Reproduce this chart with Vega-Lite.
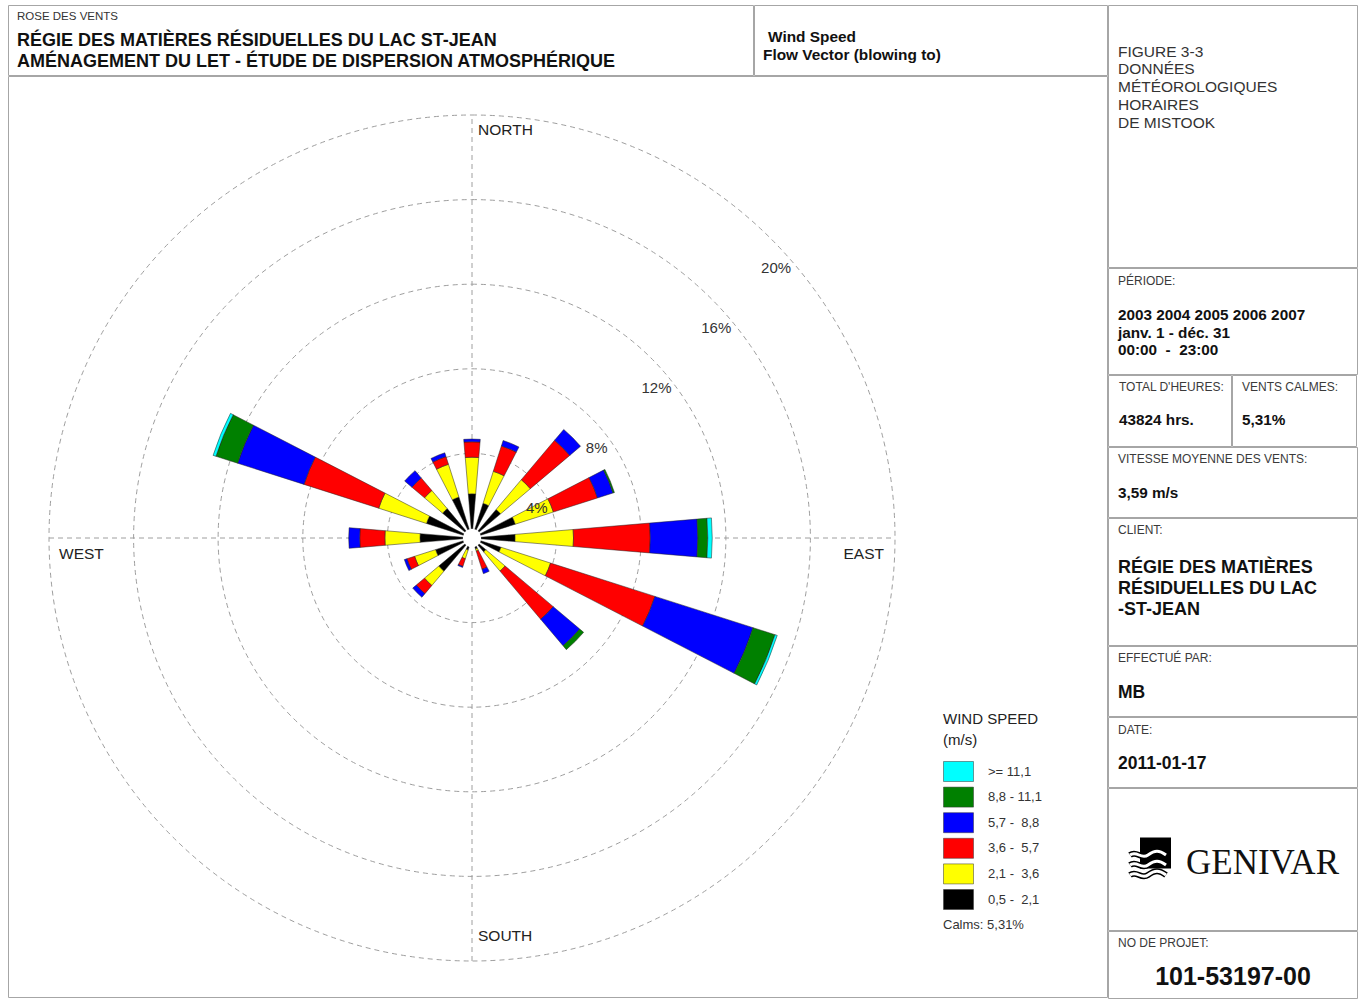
{
  "$schema": "https://vega.github.io/schema/vega-lite/v6.json",
  "background": "white",
  "padding": {"left": 7, "top": 4, "right": 0, "bottom": 0},
  "config": {
    "view": {"stroke": "#a6a6a6", "strokeWidth": 1},
    "style": {"view": {"stroke": "#a6a6a6", "strokeWidth": 1}},
    "font": "Liberation Sans"
  },
  "datasets": {
    "rose": [
      {"d": 0, "c": 1, "p": 2.09}, {"d": 0, "c": 2, "p": 1.73}, {"d": 0, "c": 3, "p": 0.73}, {"d": 0, "c": 4, "p": 0.13},
      {"d": 22.5, "c": 1, "p": 1.72}, {"d": 22.5, "c": 2, "p": 1.59}, {"d": 22.5, "c": 3, "p": 1.26}, {"d": 22.5, "c": 4, "p": 0.27},
      {"d": 45, "c": 1, "p": 1.77}, {"d": 45, "c": 2, "p": 1.84}, {"d": 45, "c": 3, "p": 2.44}, {"d": 45, "c": 4, "p": 0.67},
      {"d": 67.5, "c": 1, "p": 2.15}, {"d": 67.5, "c": 2, "p": 1.89}, {"d": 67.5, "c": 3, "p": 2.19}, {"d": 67.5, "c": 4, "p": 0.77}, {"d": 67.5, "c": 5, "p": 0.07},
      {"d": 90, "c": 1, "p": 2.04}, {"d": 90, "c": 2, "p": 2.76}, {"d": 90, "c": 3, "p": 3.63}, {"d": 90, "c": 4, "p": 2.25}, {"d": 90, "c": 5, "p": 0.47}, {"d": 90, "c": 6, "p": 0.21},
      {"d": 112.5, "c": 1, "p": 1.44}, {"d": 112.5, "c": 2, "p": 2.46}, {"d": 112.5, "c": 3, "p": 5.18}, {"d": 112.5, "c": 4, "p": 4.87}, {"d": 112.5, "c": 5, "p": 1.09}, {"d": 112.5, "c": 6, "p": 0.11},
      {"d": 135, "c": 1, "p": 0.86}, {"d": 135, "c": 2, "p": 1.19}, {"d": 135, "c": 3, "p": 2.98}, {"d": 135, "c": 4, "p": 1.64}, {"d": 135, "c": 5, "p": 0.24},
      {"d": 157.5, "c": 1, "p": 0.55}, {"d": 157.5, "c": 2, "p": 0.1}, {"d": 157.5, "c": 3, "p": 0.9}, {"d": 157.5, "c": 4, "p": 0.22},
      {"d": 180, "c": 1, "p": 0.3},
      {"d": 202.5, "c": 1, "p": 0.6}, {"d": 202.5, "c": 2, "p": 0.43}, {"d": 202.5, "c": 3, "p": 0.38}, {"d": 202.5, "c": 4, "p": 0.05},
      {"d": 225, "c": 1, "p": 2.06}, {"d": 225, "c": 2, "p": 0.88}, {"d": 225, "c": 3, "p": 0.51}, {"d": 225, "c": 4, "p": 0.22},
      {"d": 247.5, "c": 1, "p": 1.81}, {"d": 247.5, "c": 2, "p": 1.04}, {"d": 247.5, "c": 3, "p": 0.38}, {"d": 247.5, "c": 4, "p": 0.13},
      {"d": 270, "c": 1, "p": 2.46}, {"d": 270, "c": 2, "p": 1.66}, {"d": 270, "c": 3, "p": 1.19}, {"d": 270, "c": 4, "p": 0.52},
      {"d": 292.5, "c": 1, "p": 2.26}, {"d": 292.5, "c": 2, "p": 2.37}, {"d": 292.5, "c": 3, "p": 3.71}, {"d": 292.5, "c": 4, "p": 3.29}, {"d": 292.5, "c": 5, "p": 1.08}, {"d": 292.5, "c": 6, "p": 0.14},
      {"d": 315, "c": 1, "p": 1.82}, {"d": 315, "c": 2, "p": 1.12}, {"d": 315, "c": 3, "p": 0.78}, {"d": 315, "c": 4, "p": 0.45},
      {"d": 337.5, "c": 1, "p": 2.03}, {"d": 337.5, "c": 2, "p": 1.63}, {"d": 337.5, "c": 3, "p": 0.38}, {"d": 337.5, "c": 4, "p": 0.19}
    ],
    "classes": [
      {"c": 1, "s": "0,5 -\u00a0 2,1"},
      {"c": 2, "s": "2,1 -\u00a0 3,6"},
      {"c": 3, "s": "3,6 -\u00a0 5,7"},
      {"c": 4, "s": "5,7 -\u00a0 8,8"},
      {"c": 5, "s": "8,8 - 11,1"},
      {"c": 6, "s": ">= 11,1"}
    ]
  },
  "spacing": -4,
  "hconcat": [
    {
      "spacing": -4,
      "vconcat": [
        {
          "spacing": -4,
          "hconcat": [
            {
              "width": 745, "height": 70,
              "data": {"values": [{"a": "ROSE DES VENTS", "b": "RÉGIE DES MATIÈRES RÉSIDUELLES DU LAC ST-JEAN\nAMÉNAGEMENT DU LET - ÉTUDE DE DISPERSION ATMOSPHÉRIQUE"}]},
              "layer": [
                {"mark": {"type": "text", "x": 9, "y": 14.5, "align": "left", "baseline": "alphabetic", "fontSize": 11.5, "color": "#333"}, "encoding": {"text": {"field": "a"}}},
                {"mark": {"type": "text", "x": 9, "y": 41, "align": "left", "baseline": "alphabetic", "fontSize": 18, "fontWeight": "bold", "lineBreak": "\n", "lineHeight": 21, "color": "#111"}, "encoding": {"text": {"field": "b"}}}
              ]
            },
            {
              "width": 353, "height": 70,
              "data": {"values": [{"a": "Wind Speed", "b": "Flow Vector (blowing to)"}]},
              "layer": [
                {"mark": {"type": "text", "x": 14, "y": 37, "align": "left", "baseline": "alphabetic", "fontSize": 15.4, "fontWeight": "bold", "color": "#111"}, "encoding": {"text": {"field": "a"}}},
                {"mark": {"type": "text", "x": 9, "y": 55, "align": "left", "baseline": "alphabetic", "fontSize": 15.4, "fontWeight": "bold", "color": "#111"}, "encoding": {"text": {"field": "b"}}}
              ]
            }
          ]
        },
        {
          "width": 1099, "height": 921,
          "layer": [
            {
              "data": {"values": [{"r": 4}, {"r": 8}, {"r": 12}, {"r": 16}, {"r": 20}]},
              "mark": {"type": "arc", "filled": false, "stroke": "#9e9e9e", "strokeWidth": 1, "strokeDash": [5, 4], "theta": 0, "theta2": 6.2832},
              "encoding": {
                "x": {"datum": 0, "type": "quantitative", "scale": {"domain": [-21.939, 30.024], "nice": false, "zero": false}, "axis": null},
                "y": {"datum": 0, "type": "quantitative", "scale": {"domain": [-21.702, 21.844], "nice": false, "zero": false}, "axis": null},
                "radius": {"field": "r", "type": "quantitative", "stack": null, "scale": {"type": "linear", "domain": [0, 20], "range": [0, 423], "nice": false, "zero": true}}
              }
            },
            {
              "data": {"values": [{"x1": -20, "x2": 20, "y1": 0, "y2": 0}, {"x1": 0, "x2": 0, "y1": -20, "y2": 20}]},
              "mark": {"type": "rule", "color": "#9e9e9e", "strokeWidth": 1, "strokeDash": [5, 4]},
              "encoding": {
                "x": {"field": "x1", "type": "quantitative", "scale": {"domain": [-21.939, 30.024], "nice": false, "zero": false}, "axis": null},
                "x2": {"field": "x2"},
                "y": {"field": "y1", "type": "quantitative", "scale": {"domain": [-21.702, 21.844], "nice": false, "zero": false}, "axis": null},
                "y2": {"field": "y2"}
              }
            },
            {
              "data": {"name": "rose"},
              "transform": [
                {"lookup": "c", "from": {"data": {"name": "classes"}, "key": "c", "fields": ["s"]}},
                {"stack": "p", "groupby": ["d"], "sort": [{"field": "c", "order": "ascending"}], "as": ["r0", "r1"]}
              ],
              "mark": {"type": "arc", "thetaOffset": -0.0838, "theta2Offset": 0.0838, "stroke": "#222", "strokeWidth": 0.5},
              "encoding": {
                "x": {"datum": 0, "type": "quantitative", "scale": {"domain": [-21.939, 30.024], "nice": false, "zero": false}, "axis": null},
                "y": {"datum": 0, "type": "quantitative", "scale": {"domain": [-21.702, 21.844], "nice": false, "zero": false}, "axis": null},
                "theta": {"field": "d", "type": "quantitative", "stack": null, "scale": {"domain": [0, 360], "range": [0, 6.283185307], "nice": false, "zero": false}},
                "theta2": {"field": "d"},
                "radius": {"field": "r1", "type": "quantitative", "stack": null, "scale": {"type": "linear", "domain": [0, 20], "range": [0, 423], "nice": false, "zero": true}},
                "radius2": {"field": "r0"},
                "color": {
                  "field": "s", "type": "nominal",
                  "scale": {
                    "domain": [">= 11,1", "8,8 - 11,1", "5,7 -\u00a0 8,8", "3,6 -\u00a0 5,7", "2,1 -\u00a0 3,6", "0,5 -\u00a0 2,1"],
                    "range": ["#00ffff", "#008000", "#0000ff", "#ff0000", "#ffff00", "#000000"]
                  },
                  "legend": {
                    "orient": "none", "legendX": 935, "legendY": 707,
                    "title": ["WIND SPEED", "(m/s)"],
                    "titleFont": "Liberation Sans", "titleFontSize": 15, "titleFontWeight": "normal", "titleColor": "#222", "titleLineHeight": 21, "titlePadding": 13,
                    "symbolType": "M-1,-1H2V1H-1Z", "symbolSize": 400, "symbolStrokeColor": "#333", "symbolStrokeWidth": 0.5, "symbolOpacity": 1,
                    "labelFont": "Liberation Sans", "labelFontSize": 13, "labelColor": "#333", "labelOffset": 24,
                    "rowPadding": 2.6, "padding": 0
                  }
                }
              }
            },
            {
              "data": {"values": [{"k": "centre"}]},
              "mark": {"type": "arc", "radius": 9.2, "theta": 0, "theta2": 6.2832, "color": "white"},
              "encoding": {
                "x": {"datum": 0, "type": "quantitative", "scale": {"domain": [-21.939, 30.024], "nice": false, "zero": false}, "axis": null},
                "y": {"datum": 0, "type": "quantitative", "scale": {"domain": [-21.702, 21.844], "nice": false, "zero": false}, "axis": null}
              }
            },
            {
              "data": {"values": [{"r": 4, "t": "4%"}, {"r": 8, "t": "8%"}, {"r": 12, "t": "12%"}, {"r": 16, "t": "16%"}, {"r": 20, "t": "20%"}]},
              "mark": {"type": "text", "theta": 0.7854, "dx": 5, "dy": 29.5, "align": "center", "baseline": "middle", "fontSize": 15, "color": "#333"},
              "encoding": {
                "x": {"datum": 0, "type": "quantitative", "scale": {"domain": [-21.939, 30.024], "nice": false, "zero": false}, "axis": null},
                "y": {"datum": 0, "type": "quantitative", "scale": {"domain": [-21.702, 21.844], "nice": false, "zero": false}, "axis": null},
                "radius": {"field": "r", "type": "quantitative", "stack": null, "scale": {"type": "linear", "domain": [0, 20], "range": [0, 423], "nice": false, "zero": true}},
                "text": {"field": "t"}
              }
            },
            {
              "data": {"values": [{"t": "NORTH"}]},
              "mark": {"type": "text", "theta": 0, "dx": 6, "dy": 20, "align": "left", "baseline": "alphabetic", "fontSize": 15.5, "color": "#222"},
              "encoding": {
                "x": {"datum": 0, "type": "quantitative", "scale": {"domain": [-21.939, 30.024], "nice": false, "zero": false}, "axis": null},
                "y": {"datum": 0, "type": "quantitative", "scale": {"domain": [-21.702, 21.844], "nice": false, "zero": false}, "axis": null},
                "radius": {"datum": 20, "type": "quantitative", "stack": null},
                "text": {"field": "t"}
              }
            },
            {
              "data": {"values": [{"t": "SOUTH"}]},
              "mark": {"type": "text", "theta": 3.14159, "dx": 6, "dy": -20, "align": "left", "baseline": "alphabetic", "fontSize": 15.5, "color": "#222"},
              "encoding": {
                "x": {"datum": 0, "type": "quantitative", "scale": {"domain": [-21.939, 30.024], "nice": false, "zero": false}, "axis": null},
                "y": {"datum": 0, "type": "quantitative", "scale": {"domain": [-21.702, 21.844], "nice": false, "zero": false}, "axis": null},
                "radius": {"datum": 20, "type": "quantitative", "stack": null},
                "text": {"field": "t"}
              }
            },
            {
              "data": {"values": [{"t": "WEST"}]},
              "mark": {"type": "text", "theta": 4.71239, "dx": 10, "dy": 21, "align": "left", "baseline": "alphabetic", "fontSize": 15.5, "color": "#222"},
              "encoding": {
                "x": {"datum": 0, "type": "quantitative", "scale": {"domain": [-21.939, 30.024], "nice": false, "zero": false}, "axis": null},
                "y": {"datum": 0, "type": "quantitative", "scale": {"domain": [-21.702, 21.844], "nice": false, "zero": false}, "axis": null},
                "radius": {"datum": 20, "type": "quantitative", "stack": null},
                "text": {"field": "t"}
              }
            },
            {
              "data": {"values": [{"t": "EAST"}]},
              "mark": {"type": "text", "theta": 1.5708, "dx": -11, "dy": 21, "align": "right", "baseline": "alphabetic", "fontSize": 15.5, "color": "#222"},
              "encoding": {
                "x": {"datum": 0, "type": "quantitative", "scale": {"domain": [-21.939, 30.024], "nice": false, "zero": false}, "axis": null},
                "y": {"datum": 0, "type": "quantitative", "scale": {"domain": [-21.702, 21.844], "nice": false, "zero": false}, "axis": null},
                "radius": {"datum": 20, "type": "quantitative", "stack": null},
                "text": {"field": "t"}
              }
            },
            {
              "data": {"values": [{"t": "Calms: 5,31%"}]},
              "mark": {"type": "text", "x": 935, "y": 853, "align": "left", "baseline": "alphabetic", "fontSize": 13, "color": "#333"},
              "encoding": {"text": {"field": "t"}}
            }
          ]
        }
      ]
    },
    {
      "spacing": -5,
      "vconcat": [
        {
          "width": 249, "height": 262,
          "data": {"values": [{"t": "FIGURE 3-3\nDONNÉES\nMÉTÉOROLOGIQUES\nHORAIRES\nDE MISTOOK"}]},
          "mark": {"type": "text", "x": 10, "y": 51.5, "align": "left", "baseline": "alphabetic", "fontSize": 15.5, "lineBreak": "\n", "lineHeight": 17.75, "color": "#333"},
          "encoding": {"text": {"field": "t"}}
        },
        {
          "width": 249, "height": 106,
          "data": {"values": [{"a": "PÉRIODE:", "b": "2003 2004 2005 2006 2007\njanv. 1 - déc. 31\n00:00\u00a0 -\u00a0 23:00"}]},
          "layer": [
            {"mark": {"type": "text", "x": 10, "y": 17, "align": "left", "baseline": "alphabetic", "fontSize": 12, "color": "#3a3a3a"}, "encoding": {"text": {"field": "a"}}},
            {"mark": {"type": "text", "x": 10, "y": 52.3, "align": "left", "baseline": "alphabetic", "fontSize": 15.3, "fontWeight": "bold", "lineBreak": "\n", "lineHeight": 17.6, "color": "#111"}, "encoding": {"text": {"field": "b"}}}
          ]
        },
        {
          "spacing": -7,
          "hconcat": [
            {
              "width": 123, "height": 71,
              "data": {"values": [{"a": "TOTAL D'HEURES:", "b": "43824 hrs."}]},
              "layer": [
                {"mark": {"type": "text", "x": 11, "y": 16, "align": "left", "baseline": "alphabetic", "fontSize": 12, "color": "#3a3a3a"}, "encoding": {"text": {"field": "a"}}},
                {"mark": {"type": "text", "x": 11, "y": 49.5, "align": "left", "baseline": "alphabetic", "fontSize": 15.3, "fontWeight": "bold", "color": "#111"}, "encoding": {"text": {"field": "b"}}}
              ]
            },
            {
              "width": 124, "height": 71,
              "data": {"values": [{"a": "VENTS CALMES:", "b": "5,31%"}]},
              "layer": [
                {"mark": {"type": "text", "x": 10, "y": 16, "align": "left", "baseline": "alphabetic", "fontSize": 12, "color": "#3a3a3a"}, "encoding": {"text": {"field": "a"}}},
                {"mark": {"type": "text", "x": 10, "y": 49.5, "align": "left", "baseline": "alphabetic", "fontSize": 15.3, "fontWeight": "bold", "color": "#111"}, "encoding": {"text": {"field": "b"}}}
              ]
            }
          ]
        },
        {
          "width": 249, "height": 70,
          "data": {"values": [{"a": "VITESSE MOYENNE DES VENTS:", "b": "3,59 m/s"}]},
          "layer": [
            {"mark": {"type": "text", "x": 10, "y": 16, "align": "left", "baseline": "alphabetic", "fontSize": 12, "color": "#3a3a3a"}, "encoding": {"text": {"field": "a"}}},
            {"mark": {"type": "text", "x": 10, "y": 50.5, "align": "left", "baseline": "alphabetic", "fontSize": 15.3, "fontWeight": "bold", "color": "#111"}, "encoding": {"text": {"field": "b"}}}
          ]
        },
        {
          "width": 249, "height": 127,
          "data": {"values": [{"a": "CLIENT:", "b": "RÉGIE DES MATIÈRES\nRÉSIDUELLES DU LAC\n-ST-JEAN"}]},
          "layer": [
            {"mark": {"type": "text", "x": 10, "y": 16, "align": "left", "baseline": "alphabetic", "fontSize": 12, "color": "#3a3a3a"}, "encoding": {"text": {"field": "a"}}},
            {"mark": {"type": "text", "x": 10, "y": 54.5, "align": "left", "baseline": "alphabetic", "fontSize": 18, "fontWeight": "bold", "lineBreak": "\n", "lineHeight": 21, "color": "#111"}, "encoding": {"text": {"field": "b"}}}
          ]
        },
        {
          "width": 249, "height": 70,
          "data": {"values": [{"a": "EFFECTUÉ PAR:", "b": "MB"}]},
          "layer": [
            {"mark": {"type": "text", "x": 10, "y": 16, "align": "left", "baseline": "alphabetic", "fontSize": 12, "color": "#3a3a3a"}, "encoding": {"text": {"field": "a"}}},
            {"mark": {"type": "text", "x": 10, "y": 51.5, "align": "left", "baseline": "alphabetic", "fontSize": 17.5, "fontWeight": "bold", "color": "#111"}, "encoding": {"text": {"field": "b"}}}
          ]
        },
        {
          "width": 249, "height": 70,
          "data": {"values": [{"a": "DATE:", "b": "2011-01-17"}]},
          "layer": [
            {"mark": {"type": "text", "x": 10, "y": 17, "align": "left", "baseline": "alphabetic", "fontSize": 12, "color": "#3a3a3a"}, "encoding": {"text": {"field": "a"}}},
            {"mark": {"type": "text", "x": 10, "y": 52, "align": "left", "baseline": "alphabetic", "fontSize": 17.5, "fontWeight": "bold", "color": "#111"}, "encoding": {"text": {"field": "b"}}}
          ]
        },
        {
          "width": 249, "height": 142,
          "data": {"values": [{"t": "GENIVAR"}]},
          "layer": [
            {"mark": {"type": "point", "shape": "square", "size": 961, "filled": true, "color": "#000", "opacity": 1, "x": 47.5, "y": 65}},
            {"mark": {"type": "point", "shape": "M-0.9,-0.35C-0.55,-0.6 -0.35,-0.1 0,-0.35S0.55,-0.6 0.9,-0.35M-0.9,0.15C-0.55,-0.1 -0.35,0.4 0,0.15S0.55,-0.1 0.9,0.15M-0.9,0.65C-0.55,0.4 -0.35,0.9 0,0.65S0.55,0.4 0.9,0.65", "size": 1600, "filled": false, "stroke": "#000", "strokeWidth": 6, "opacity": 1, "x": 40, "y": 74}},
            {"mark": {"type": "point", "shape": "M-0.9,-0.35C-0.55,-0.6 -0.35,-0.1 0,-0.35S0.55,-0.6 0.9,-0.35M-0.9,0.15C-0.55,-0.1 -0.35,0.4 0,0.15S0.55,-0.1 0.9,0.15M-0.9,0.65C-0.55,0.4 -0.35,0.9 0,0.65S0.55,0.4 0.9,0.65", "size": 1600, "filled": false, "stroke": "#fff", "strokeWidth": 3, "opacity": 1, "x": 40, "y": 74}},
            {"mark": {"type": "text", "x": 78, "y": 86, "align": "left", "baseline": "alphabetic", "font": "Liberation Serif", "fontSize": 35, "color": "#111"}, "encoding": {"text": {"field": "t"}}}
          ]
        },
        {
          "width": 249, "height": 67,
          "data": {"values": [{"a": "NO DE PROJET:", "b": "101-53197-00"}]},
          "layer": [
            {"mark": {"type": "text", "x": 10, "y": 16, "align": "left", "baseline": "alphabetic", "fontSize": 12, "color": "#3a3a3a"}, "encoding": {"text": {"field": "a"}}},
            {"mark": {"type": "text", "x": 125, "y": 54, "align": "center", "baseline": "alphabetic", "fontSize": 25, "fontWeight": "bold", "color": "#111"}, "encoding": {"text": {"field": "b"}}}
          ]
        }
      ]
    }
  ]
}
